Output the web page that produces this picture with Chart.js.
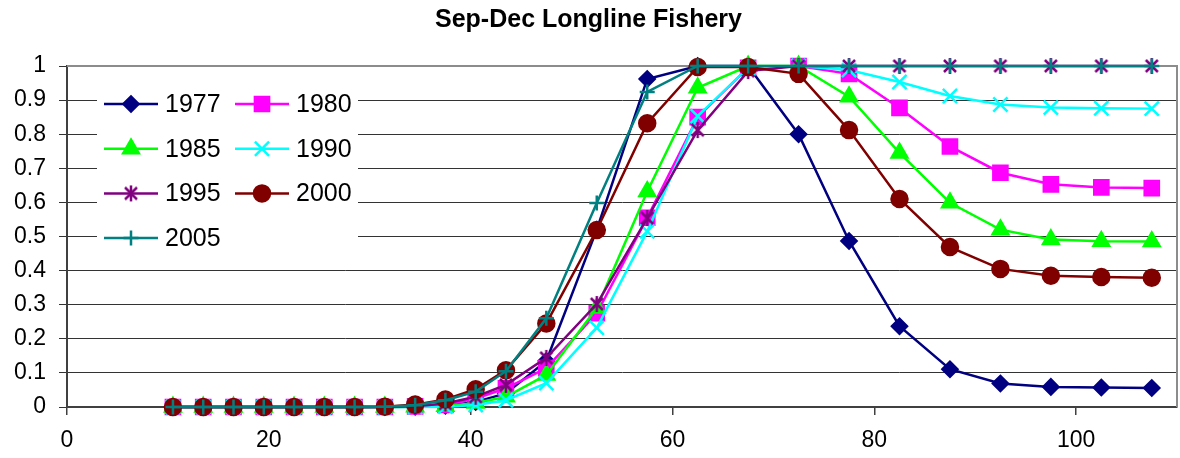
<!DOCTYPE html>
<html>
<head>
<meta charset="utf-8">
<script src="https://cdn.jsdelivr.net/npm/chart.js@4/dist/chart.umd.min.js"></script>
<style>
  html, body { margin: 0; padding: 0; background: #fff; }
  #wrap { width: 1180px; height: 458px; }
</style>
</head>
<body>
<div id="wrap"><canvas id="selectivity" width="1180" height="458"></canvas></div>
<script>
// length bins (x) and selectivity per year
const lengths = [10.5, 13.5, 16.5, 19.5, 22.5, 25.5, 28.5, 31.5, 34.5, 37.5, 40.5, 43.5,
                 47.5, 52.5, 57.5, 62.5, 67.5, 72.5, 77.5, 82.5, 87.5, 92.5, 97.5, 102.5, 107.5];
const years = ["1977", "1980", "1985", "1990", "1995", "2000", "2005"];

const sel1977 = [0, 0, 0, 0, 0, 0, 0, 0, 0.001, 0.004, 0.015, 0.04, 0.135, 0.52, 0.962, 1, 1, 0.8, 0.487, 0.237, 0.111, 0.069, 0.059, 0.057, 0.056];
const sel1980 = [0, 0, 0, 0, 0, 0, 0, 0, 0.002, 0.006, 0.025, 0.055, 0.114, 0.275, 0.555, 0.85, 0.995, 1, 0.977, 0.877, 0.764, 0.687, 0.653, 0.644, 0.642];
const sel1985 = [0, 0, 0, 0, 0, 0, 0, 0, 0.001, 0.002, 0.012, 0.03, 0.094, 0.29, 0.632, 0.936, 1, 1, 0.91, 0.745, 0.599, 0.52, 0.491, 0.486, 0.485];
const sel1990 = [0, 0, 0, 0, 0, 0, 0, 0, 0, 0.001, 0.006, 0.02, 0.07, 0.232, 0.515, 0.853, 0.995, 1, 0.988, 0.953, 0.912, 0.887, 0.878, 0.876, 0.875];
const sel1995 = [0, 0, 0, 0, 0, 0, 0, 0, 0.002, 0.01, 0.03, 0.065, 0.144, 0.302, 0.554, 0.812, 0.985, 1, 1, 1, 1, 1, 1, 1, 1];
const sel2000 = [0, 0, 0, 0, 0, 0, 0, 0.001, 0.007, 0.022, 0.052, 0.108, 0.245, 0.519, 0.832, 0.997, 0.997, 0.977, 0.812, 0.61, 0.469, 0.405, 0.385, 0.381, 0.379];
const sel2005 = [0, 0, 0, 0, 0, 0, 0, 0.001, 0.005, 0.02, 0.045, 0.105, 0.26, 0.598, 0.924, 1, 1, 1, 1, 1, 1, 1, 1, 1, 1];

const xTicks = [0, 20, 40, 60, 80, 100];

const FONT = "'Liberation Sans', Arial, sans-serif";

// excel style "*" marker: an x with a vertical bar
function asteriskMarker(color) {
    const c = document.createElement("canvas");
    c.width = 18;
    c.height = 18;
    const g = c.getContext("2d");
    g.strokeStyle = color;
    g.lineWidth = 2.5;
    g.beginPath();
    g.moveTo(3, 3); g.lineTo(15, 15);
    g.moveTo(15, 3); g.lineTo(3, 15);
    g.moveTo(9, 1); g.lineTo(9, 17);
    g.stroke();
    return c;
}

const styles = [
    { color: "#000080", pointStyle: "rectRot", radius: 7.5 },
    { color: "#FF00FF", pointStyle: "rect", radius: 10 },
    { color: "#00FF00", pointStyle: "triangle", radius: 9 },
    { color: "#00FFFF", pointStyle: "crossRot", radius: 10 },
    { color: "#800080", pointStyle: asteriskMarker("#800080"), radius: 9 },
    { color: "#800000", pointStyle: "circle", radius: 8 },
    { color: "#008080", pointStyle: "cross", radius: 7.5 },
];

const series = [sel1977, sel1980, sel1985, sel1990, sel1995, sel2000, sel2005];

const datasets = series.map((vals, i) => ({
    label: years[i],
    data: vals.map((v, j) => ({ x: lengths[j], y: v })),
    borderColor: styles[i].color,
    backgroundColor: styles[i].color,
    pointBackgroundColor: styles[i].color,
    pointBorderColor: styles[i].color,
    pointStyle: styles[i].pointStyle,
    pointRadius: styles[i].radius,
    pointHoverRadius: styles[i].radius,
    pointBorderWidth: 2.5,
    borderWidth: 2.5,
    tension: 0,
    fill: false,
    clip: false,
    order: -i, // later years on top
}));

// gray frame on top/right plus the boxed legend inside the plot
const framePlugin = {
    id: "frameAndLegend",
    beforeDatasetsDraw(chart) {
        const { ctx, chartArea: a } = chart;
        ctx.save();
        ctx.strokeStyle = "#8c8c8c";
        ctx.lineWidth = 2;
        ctx.beginPath();
        ctx.moveTo(a.left, a.top);
        ctx.lineTo(a.right, a.top);
        ctx.lineTo(a.right, a.bottom);
        ctx.stroke();

        // legend box
        ctx.fillStyle = "#fff";
        ctx.fillRect(a.left + 30, a.top + 14, 261, 178);
        ctx.font = "25px " + FONT;
        ctx.textBaseline = "middle";
        ctx.textAlign = "left";
        chart.data.datasets.forEach((ds, i) => {
            const col = i % 2;
            const row = Math.floor(i / 2);
            const x0 = a.left + 37 + col * 131;
            const y = a.top + 38 + row * 44.7;
            ctx.strokeStyle = ds.borderColor;
            ctx.fillStyle = ds.borderColor;
            ctx.lineWidth = ds.borderWidth;
            ctx.beginPath();
            ctx.moveTo(x0, y);
            ctx.lineTo(x0 + 54, y);
            ctx.stroke();
            ctx.lineWidth = ds.pointBorderWidth;
            Chart.helpers.drawPoint(ctx, {
                pointStyle: ds.pointStyle,
                radius: ds.pointRadius,
                rotation: 0,
                borderWidth: ds.pointBorderWidth,
            }, x0 + 27, y);
            ctx.fillStyle = "#000";
            ctx.fillText(ds.label, x0 + 61, y + 1);
        });
        ctx.restore();
    },
};

new Chart(document.getElementById("selectivity"), {
    type: "line",
    data: { datasets: datasets },
    plugins: [framePlugin],
    options: {
        responsive: false,
        animation: false,
        layout: {
            autoPadding: false,
            padding: { left: 0, right: 3, top: 0, bottom: 0 },
        },
        scales: {
            x: {
                type: "linear",
                min: 0,
                max: 110,
                afterBuildTicks: (scale) => {
                    scale.ticks = xTicks.map((v) => ({ value: v }));
                },
                afterFit: (scale) => {
                    scale.height = 51;
                    scale.paddingLeft = 0;
                    scale.paddingRight = 0;
                },
                grid: {
                    drawOnChartArea: false,
                    drawTicks: true,
                    tickLength: 8,
                    color: "#404040",
                    lineWidth: 1.5,
                },
                border: { color: "#404040", width: 2 },
                ticks: {
                    padding: 12,
                    color: "#000",
                    maxRotation: 0,
                    font: { family: FONT, size: 23 },
                },
            },
            y: {
                min: 0,
                max: 1,
                afterFit: (scale) => {
                    scale.width = 67;
                    scale.paddingTop = 0;
                    scale.paddingBottom = 0;
                },
                grid: {
                    color: "#333",
                    lineWidth: 1,
                    drawTicks: true,
                    tickLength: 8,
                },
                border: { color: "#404040", width: 2 },
                ticks: {
                    stepSize: 0.1,
                    padding: 13,
                    color: "#000",
                    font: { family: FONT, size: 23 },
                    callback: (v) => String(+v.toFixed(1)),
                },
            },
        },
        plugins: {
            legend: { display: false },
            tooltip: { enabled: false },
            title: {
                display: true,
                text: "Sep-Dec Longline Fishery",
                color: "#000",
                font: { family: FONT, size: 25, weight: "bold" },
                padding: { top: 5, bottom: 31 },
            },
        },
    },
});
</script>
</body>
</html>
